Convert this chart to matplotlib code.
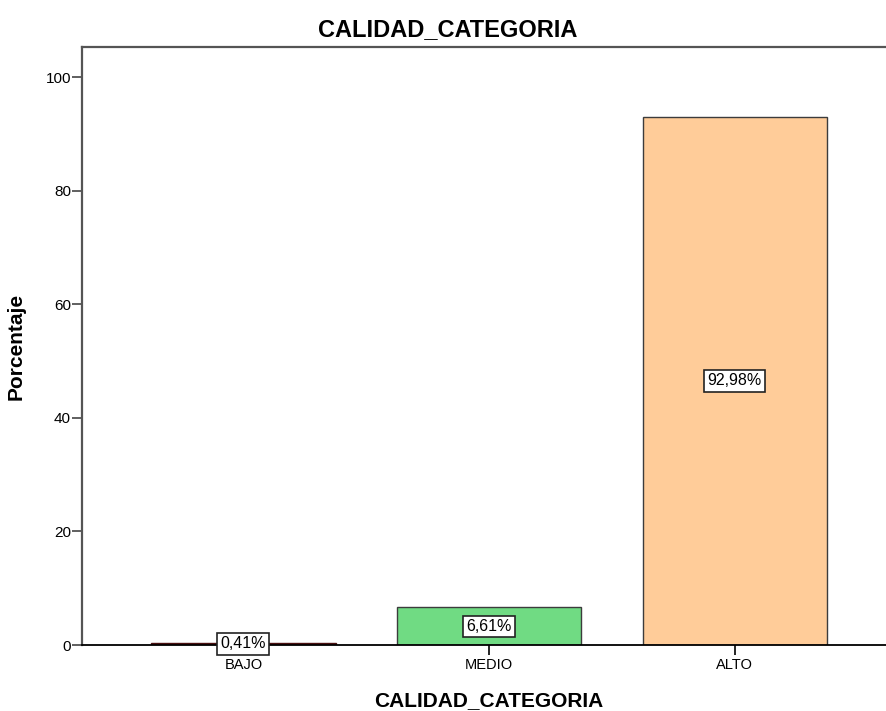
import numpy as np
import matplotlib.pyplot as plt

plt.rcParams['font.family'] = ['Liberation Sans', 'DejaVu Sans']

categorias = ['BAJO', 'MEDIO', 'ALTO']
porcentajes = [0.41, 6.61, 92.98]
etiquetas = ['0,41%', '6,61%', '92,98%']
colores = ['#7a0f12', '#70db83', '#ffcc99']
bordes = ['#4a1010', '#3c3c3c', '#3c3c3c']

fig = plt.figure(figsize=(8.86, 7.11), dpi=100)
ax = fig.add_axes([0.0926, 0.0928, 0.9187, 0.8411])

x = np.arange(len(categorias))
ax.bar(x, porcentajes, width=0.75, color=colores, edgecolor=bordes, linewidth=1)

for xi, v, t in zip(x, porcentajes, etiquetas):
    ax.text(xi, v / 2, t, ha='center', va='center', fontsize=11.5,
            bbox=dict(boxstyle='square,pad=0.2', facecolor='white', edgecolor='#222222', linewidth=1.2))

ax.set_xlim(-0.657, 2.657)
ax.set_ylim(0, 105.3)
ax.set_xticks(x)
ax.set_xticklabels(categorias, fontsize=10.5)
ax.set_yticks([0, 20, 40, 60, 80, 100])
ax.tick_params(axis='y', labelsize=11, length=7, pad=1, color='#444444', width=1.2)
ax.tick_params(axis='x', length=7, pad=2, width=1.2)

for s in ['left', 'top']:
    ax.spines[s].set_color('#555555')
    ax.spines[s].set_linewidth(1.6)
ax.spines['right'].set_visible(False)
ax.spines['bottom'].set_color('black')
ax.spines['bottom'].set_linewidth(1.3)

# titulo centrado en la figura, no en los ejes
fig.text(448 / 886, 1 - 30 / 711, 'CALIDAD_CATEGORIA', fontsize=17, fontweight='bold',
         ha='center', va='center')
ax.set_xlabel('CALIDAD_CATEGORIA', fontsize=15, fontweight='bold', labelpad=14)
ax.set_ylabel('Porcentaje', fontsize=15, fontweight='bold', labelpad=14)

fig.savefig('out.png', dpi=100)
